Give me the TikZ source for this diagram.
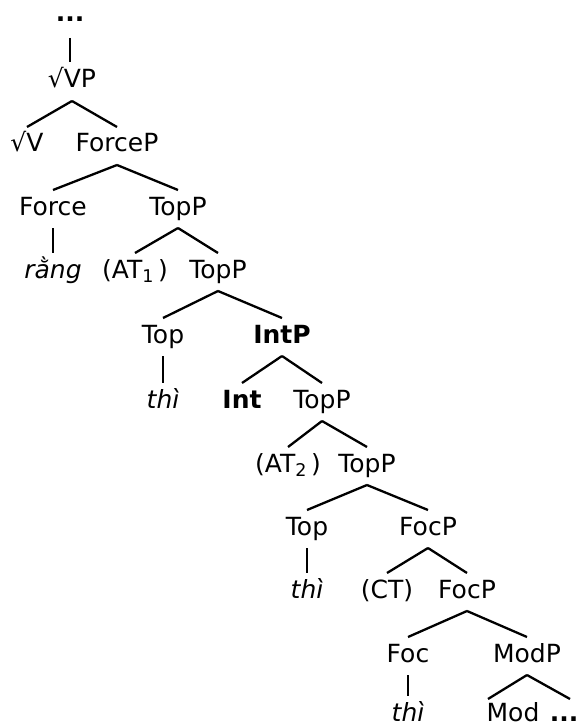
\documentclass[tikz,border=0pt]{standalone}
\usepackage{fontspec}
\setmainfont{DejaVu Sans}
\usetikzlibrary{calc}
\tikzset{
  lab/.style={anchor=base, inner sep=0pt, font=\fontsize{25}{29}\selectfont},
  edge/.style={line width=2.3pt},
}
% parent-to-child branch: from just under the parent label to just over the child label
\newcommand{\branch}[2]{\draw[edge] ($(#1.base)+(0,13)$) -- ($(#2.base)+(0,-25)$);}
\begin{document}
\begin{tikzpicture}[x=1pt, y=-1pt]
\useasboundingbox (0,0) rectangle (578,727);
% labels (placed on their baselines)
\node[lab] (dots)  at (70,22)   {\bfseries ...};
\node[lab] (vp)    at (72,88)   {√VP};
\node[lab] (v)     at (27,152)  {√V};
\node[lab] (forcep) at (117,152) {ForceP};
\node[lab] (force) at (53,215)  {Force};
\node[lab] (topa)  at (178,215) {TopP};
\node[lab] (rang)  at (53,278)  {\itshape rằng};
\node[lab] (ata)   at (135,278) {(AT\textsubscript{1}\,)};
\node[lab] (topb)  at (218,278) {TopP};
\node[lab] (topc)  at (163,343) {Top};
\node[lab] (intp)  at (282,343) {\bfseries IntP};
\node[lab] (thia)  at (163,408) {\itshape thì};
\node[lab] (int)   at (242,408) {\bfseries Int};
\node[lab] (topd)  at (322,408) {TopP};
\node[lab] (atb)   at (288,472) {(AT\textsubscript{2}\,)};
\node[lab] (tope)  at (367,472) {TopP};
\node[lab] (topf)  at (307,535) {Top};
\node[lab] (focpa) at (428,535) {FocP};
\node[lab] (thib)  at (307,598) {\itshape thì};
\node[lab] (ct)    at (387,598) {(CT)};
\node[lab] (focpb) at (467,598) {FocP};
\node[lab] (foc)   at (408,662) {Foc};
\node[lab] (modp)  at (527,662) {ModP};
\node[lab] (thic)  at (408,721) {\itshape thì};
\node[lab] (mod)   at (513,721) {Mod};
\node[lab] (dotsb) at (564,721) {\bfseries ...};
% branches
\branch{vp}{v}
\branch{vp}{forcep}
\branch{forcep}{force}
\branch{forcep}{topa}
\branch{force}{rang}
\branch{topa}{ata}
\branch{topa}{topb}
\branch{topb}{topc}
\branch{topb}{intp}
\branch{topc}{thia}
\branch{intp}{int}
\branch{intp}{topd}
\branch{topd}{atb}
\branch{topd}{tope}
\branch{tope}{topf}
\branch{tope}{focpa}
\branch{topf}{thib}
\branch{focpa}{ct}
\branch{focpa}{focpb}
\branch{focpb}{foc}
\branch{focpb}{modp}
\branch{foc}{thic}
\draw[edge] ($(modp.base)+(0,13)$) -- ($(mod.base)+(-25,-22)$);
\draw[edge] ($(modp.base)+(0,13)$) -- ($(dotsb.base)+(6,-22)$);
% top link from the ellipsis
\draw[edge] ($(dots.base)+(0,16)$) -- ($(dots.base |- vp.base)+(0,-26)$);
\end{tikzpicture}
\end{document}
